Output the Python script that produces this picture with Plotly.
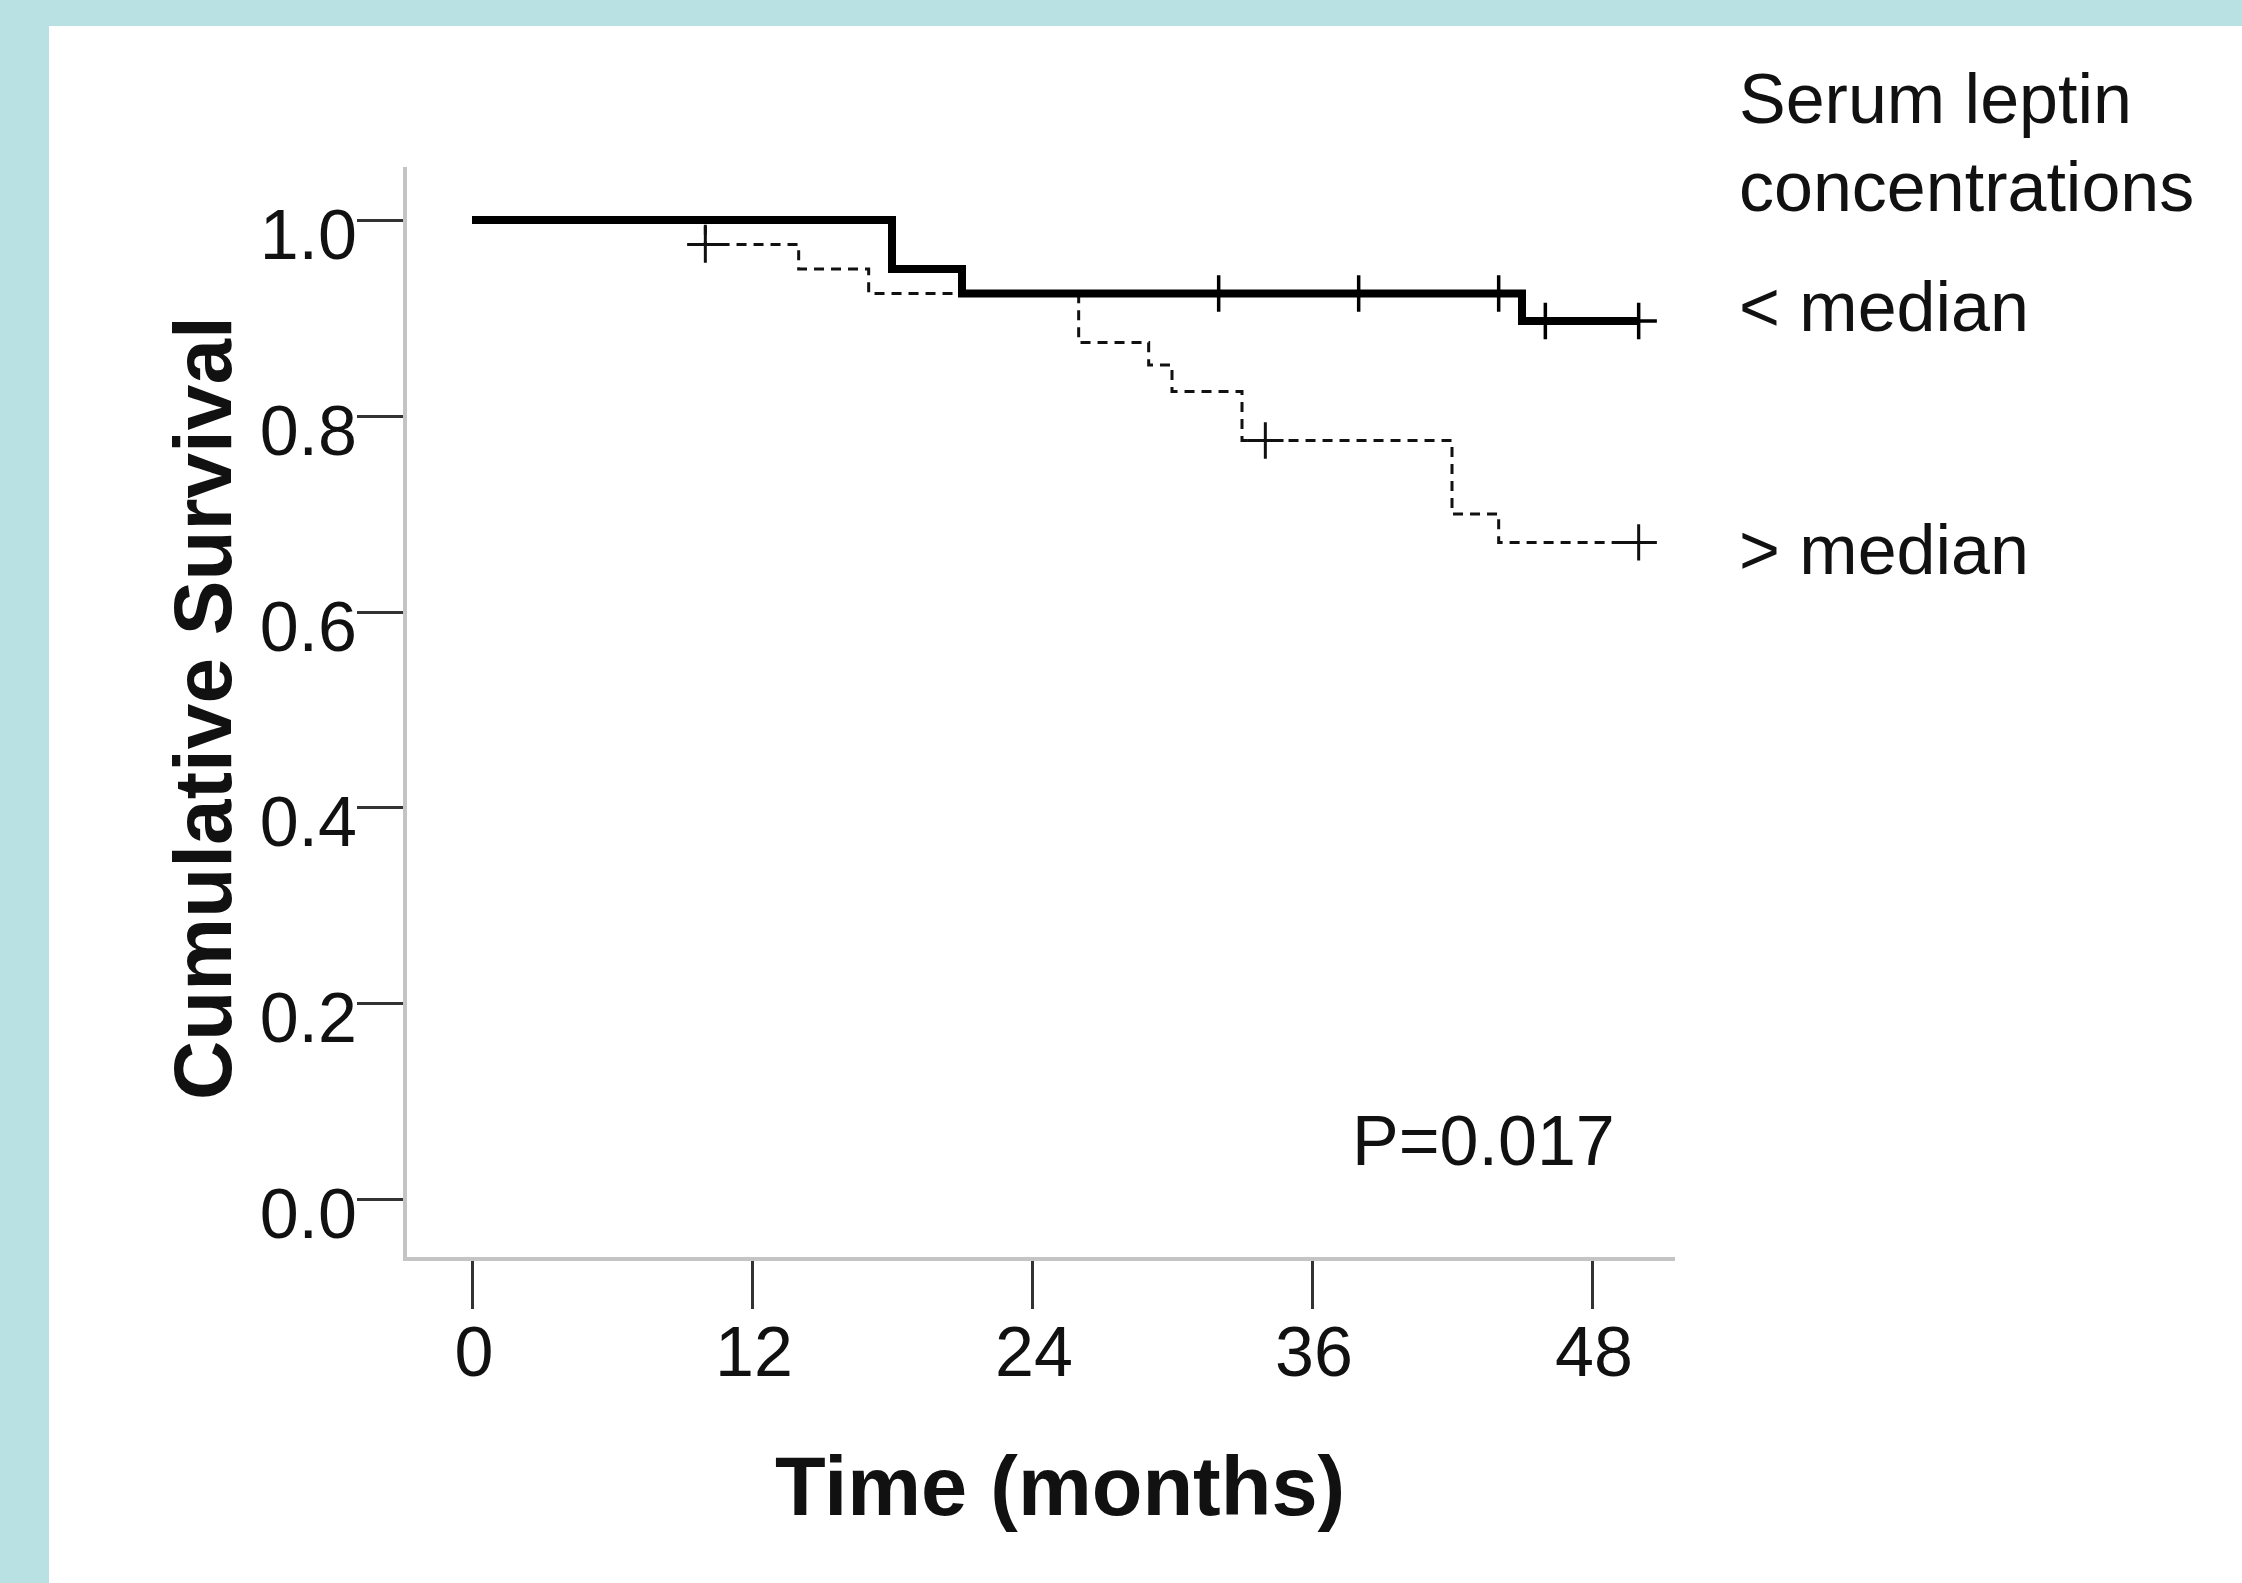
import plotly.graph_objects as go

# ---- data ----
low_times = [0, 18, 21, 45, 50]
low_surv = [1.0, 0.950, 0.925, 0.897, 0.897]
low_cens_t = [32, 38, 44, 46, 50]
low_cens_s = [0.925, 0.925, 0.925, 0.897, 0.897]

high_times = [0, 10, 14, 17, 26, 29, 30, 33, 42, 44, 50]
high_surv = [1.0, 0.975, 0.950, 0.925, 0.875, 0.852, 0.825, 0.775, 0.700, 0.671, 0.671]
high_cens_t = [10, 34, 50]
high_cens_s = [0.975, 0.775, 0.671]

x_ticks = [0, 12, 24, 36, 48]
y_ticks = [0.0, 0.2, 0.4, 0.6, 0.8, 1.0]
y_tick_labels = ["0.0", "0.2", "0.4", "0.6", "0.8", "1.0"]

# ---- layout geometry (pixels) ----
W, H = 2242, 1583
ML, MR, MT, MB = 407, 567, 167, 326
PW = W - ML - MR
PH = H - MT - MB
PLOT_BOTTOM = H - MB


def px(x):
    return (x - ML) / PW


def py(y):
    return (PLOT_BOTTOM - y) / PH


FONT = "Liberation Sans, Arial, sans-serif"
TEAL = "#B9E0E3"

fig = go.Figure()

fig.add_trace(go.Scatter(
    x=high_times, y=high_surv, mode="lines", line_shape="hv",
    line=dict(color="#111111", width=3, dash="10px,7px"),
    name="> median", showlegend=False, hoverinfo="skip"))
fig.add_trace(go.Scatter(
    x=high_cens_t, y=high_cens_s, mode="markers",
    marker=dict(symbol="cross-thin", size=26, line=dict(color="#111111", width=3)),
    showlegend=False, hoverinfo="skip"))
fig.add_trace(go.Scatter(
    x=low_times, y=low_surv, mode="lines", line_shape="hv",
    line=dict(color="#000000", width=8),
    name="< median", showlegend=False, hoverinfo="skip"))
fig.add_trace(go.Scatter(
    x=low_cens_t, y=low_cens_s, mode="markers",
    marker=dict(symbol="cross-thin", size=26, line=dict(color="#000000", width=3.5)),
    showlegend=False, hoverinfo="skip"))

fig.update_xaxes(
    range=[-2.786, 51.557], tickvals=x_ticks, ticktext=[str(t) for t in x_ticks],
    ticks="outside", ticklen=48, tickwidth=3, tickcolor="#333333",
    ticklabelstandoff=-17, ticklabelshift=2,
    showline=True, linecolor="#c4c4c4", linewidth=4,
    showgrid=False, zeroline=False,
    tickfont=dict(family=FONT, size=70, color="#111111"))
fig.update_yaxes(
    range=[-0.0582, 1.0541], tickvals=y_ticks, ticktext=y_tick_labels,
    ticks="outside", ticklen=46, tickwidth=3, tickcolor="#333333",
    ticklabelstandoff=-14, ticklabelshift=14,
    showline=True, linecolor="#c4c4c4", linewidth=4,
    showgrid=False, zeroline=False,
    tickfont=dict(family=FONT, size=70, color="#111111"))

ann = []


def add_text(text, x, y, size=70, bold=False, xanchor="left", angle=0):
    t = f"<b>{text}</b>" if bold else text
    ann.append(dict(text=t, x=px(x), y=py(y), xref="paper", yref="paper",
                    xanchor=xanchor, yanchor="middle", showarrow=False,
                    textangle=angle,
                    font=dict(family=FONT, size=size, color="#111111")))


add_text("Serum leptin", 1737, 99)
add_text("concentrations", 1737, 187)
add_text("&lt; median", 1737, 307)
add_text("&gt; median", 1737, 550)
add_text("P=0.017", 1350, 1141)
add_text("Time (months)", 1060, 1486, size=83, bold=True, xanchor="center")
add_text("Cumulative Survival", 202, 708, size=82, bold=True, xanchor="center", angle=-90)

fig.update_layout(
    width=W, height=H, autosize=False,
    margin=dict(l=ML, r=MR, t=MT, b=MB, pad=0),
    paper_bgcolor="white", plot_bgcolor="white",
    annotations=ann,
    shapes=[
        dict(type="rect", xref="paper", yref="paper", layer="below",
             x0=px(0), x1=px(49), y0=py(H), y1=py(0),
             fillcolor=TEAL, line=dict(width=0)),
        dict(type="rect", xref="paper", yref="paper", layer="below",
             x0=px(0), x1=px(W), y0=py(26), y1=py(0),
             fillcolor=TEAL, line=dict(width=0)),
    ],
)

fig.write_html("out.html", config={"displayModeBar": False},
               post_script="document.body.style.margin='0';")
